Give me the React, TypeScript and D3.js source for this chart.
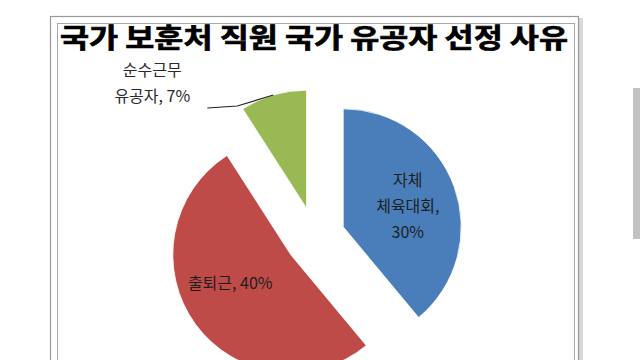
import React from "react";
import * as d3 from "d3";

const title = "국가 보훈처 직원 국가 유공자 선정 사유";
const categories = ["자체 체육대회", "출퇴근", "순수근무 유공자"];
const values = [30, 40, 7];
const labelLines = [["자체", "체육대회,", "30%"], ["출퇴근, 40%"], ["순수근무", "유공자, 7%"]];
const colors = ["#4A7EBB", "#BE4B48", "#98B954"];

const W = 640;
const H = 360;
const cx = 315;
const cy = 237;
const R = 118;
const explode = 30;
const FONT = "'Noto Sans CJK KR', 'Noto Sans', sans-serif";

export default function App() {
  const pie = d3.pie<number>().sort(null).startAngle(0).endAngle(2 * Math.PI);
  const arcs = pie(values);
  const arc = d3.arc<d3.PieArcDatum<number>>().innerRadius(0).outerRadius(R);
  const off = (a: d3.PieArcDatum<number>) => {
    const m = (a.startAngle + a.endAngle) / 2;
    return [Math.sin(m) * explode, -Math.cos(m) * explode];
  };
  const pt = (a: d3.PieArcDatum<number>, r: number, da = 0) => {
    const m = (a.startAngle + a.endAngle) / 2 + da;
    const [ox, oy] = off(a);
    return [cx + ox + Math.sin(m) * r, cy + oy - Math.cos(m) * r];
  };

  const blueLab = pt(arcs[0], 68, 0.03);
  const redLab = pt(arcs[1], 67, 0.19);
  const gEdge = pt(arcs[2], R);
  const leader = [
    gEdge,
    [gEdge[0] - 36, gEdge[1] + 11],
    [gEdge[0] - 66, gEdge[1] + 13],
  ];
  const gLabX = gEdge[0] - 121;
  const gLabY = gEdge[1] + 7;

  return (
    <svg
      width={W}
      height={H}
      viewBox={`0 0 ${W} ${H}`}
      style={{ position: "absolute", left: 0, top: 0, background: "#fff" }}
    >
      <rect x={0} y={0} width={W} height={H} fill="#ffffff" />
      <rect x={579} y={18} width={4} height={360} fill="#d8d8d8" />
      <rect x={50.5} y={16.5} width={528} height={360} fill="none" stroke="#9a9a9a" strokeWidth={1.2} />
      <rect x={57.5} y={23.5} width={517} height={360} fill="none" stroke="#a8a8a8" strokeWidth={1} />
      <rect x={633} y={88} width={7} height={151} fill="#c2c2c2" />

      <text
        x={60}
        y={48}
        fontFamily={FONT}
        fontWeight={700}
        fontSize={27}
        fill="#000"
        stroke="#000"
        strokeWidth={0.7}
        textLength={508}
        lengthAdjust="spacingAndGlyphs"
      >
        {title}
      </text>

      <g>
        {arcs.map((a, i) => {
          const [ox, oy] = off(a);
          return (
            <path
              key={categories[i]}
              d={arc(a) || ""}
              transform={`translate(${cx + ox},${cy + oy})`}
              fill={colors[i]}
              stroke="#fff"
              strokeWidth={0.8}
            />
          );
        })}
      </g>

      <g fontFamily={FONT} fontSize={16} fill="#1e1e1e" textAnchor="middle">
        {labelLines[0].map((l, j) => (
          <text key={l} x={blueLab[0]} y={blueLab[1] + (j - 1) * 26 + 6}>
            {l}
          </text>
        ))}
        <text x={redLab[0]} y={redLab[1] + 6}>
          {labelLines[1][0]}
        </text>
        {labelLines[2].map((l, j) => (
          <text key={l} x={gLabX} y={gLabY + (j - 1) * 26} fill="#2a2a2a">
            {l}
          </text>
        ))}
      </g>
      <polyline
        points={leader.map((p) => p.join(",")).join(" ")}
        fill="none"
        stroke="#222"
        strokeWidth={1.2}
      />
    </svg>
  );
}
